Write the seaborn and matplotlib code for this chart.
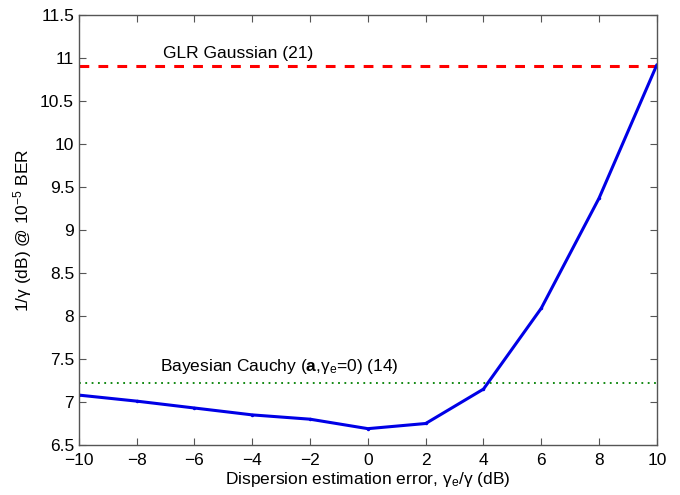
import numpy as np
import pandas as pd
import matplotlib
matplotlib.use("Agg")
import matplotlib.pyplot as plt
import matplotlib.ticker as mticker
import seaborn as sns

# data
error_db = [-10, -8, -6, -4, -2, 0, 2, 4, 6, 8, 10]
snr_db = [7.08, 7.01, 6.93, 6.85, 6.80, 6.69, 6.75, 7.15, 8.09, 9.37, 10.92]
glr_gaussian = 10.91
bayes_cauchy = 7.22

x_ticks = [-10, -8, -6, -4, -2, 0, 2, 4, 6, 8, 10]
y_ticks = [6.5, 7, 7.5, 8, 8.5, 9, 9.5, 10, 10.5, 11, 11.5]

sns.set_style("ticks")
plt.rcParams["font.family"] = ["Liberation Sans", "DejaVu Sans"]
plt.rcParams["mathtext.fontset"] = "custom"
plt.rcParams["mathtext.rm"] = "Liberation Sans"
plt.rcParams["mathtext.it"] = "Liberation Sans:italic"
plt.rcParams["mathtext.bf"] = "Liberation Sans:bold"
plt.rcParams["xtick.direction"] = "in"
plt.rcParams["ytick.direction"] = "in"
plt.rcParams["text.color"] = "black"
plt.rcParams["axes.labelcolor"] = "black"
plt.rcParams["xtick.labelcolor"] = "black"
plt.rcParams["ytick.labelcolor"] = "black"

df = pd.DataFrame({"err": error_db, "snr": snr_db})

fig = plt.figure(figsize=(6.8, 4.95), dpi=100)
ax = fig.add_axes([0.116, 0.101, 0.85, 0.869])

ax.axhline(glr_gaussian, color="#ff0000", linestyle=(0, (3.2, 3)), linewidth=2.2)
ax.axhline(bayes_cauchy, color="#008000", linestyle=(0, (1, 2.5)), linewidth=1.3)
sns.lineplot(data=df, x="err", y="snr", ax=ax, color="#0000e6", linewidth=2.2,
             marker="o", markersize=2.5, markeredgewidth=0)

ax.text(-7.1, 10.96, "GLR Gaussian (21)", fontsize=12.5, va="bottom")
ax.text(-7.2, 7.3, r"Bayesian Cauchy ($\mathbf{a}$,γ$_\mathrm{e}$=0) (14)", fontsize=12.5, va="bottom")

ax.set_xlim(-10, 10)
ax.set_ylim(6.5, 11.5)
ax.set_xticks(x_ticks)
ax.set_yticks(y_ticks)
ax.yaxis.set_major_formatter(mticker.FormatStrFormatter("%g"))
ax.tick_params(labelsize=12.5, top=True, right=True, length=5, color="#555555")
ax.tick_params(axis="x", pad=6)
for s in ax.spines.values():
    s.set_color("#555555")
    s.set_linewidth(1.0)

ax.set_xlabel(r"Dispersion estimation error, γ$_\mathrm{e}$/γ (dB)", fontsize=12.5, labelpad=1)
ax.set_ylabel(r"1/γ (dB) @ 10$^{-5}$ BER", fontsize=12.5, labelpad=4)

fig.savefig("out.png", dpi=100)
